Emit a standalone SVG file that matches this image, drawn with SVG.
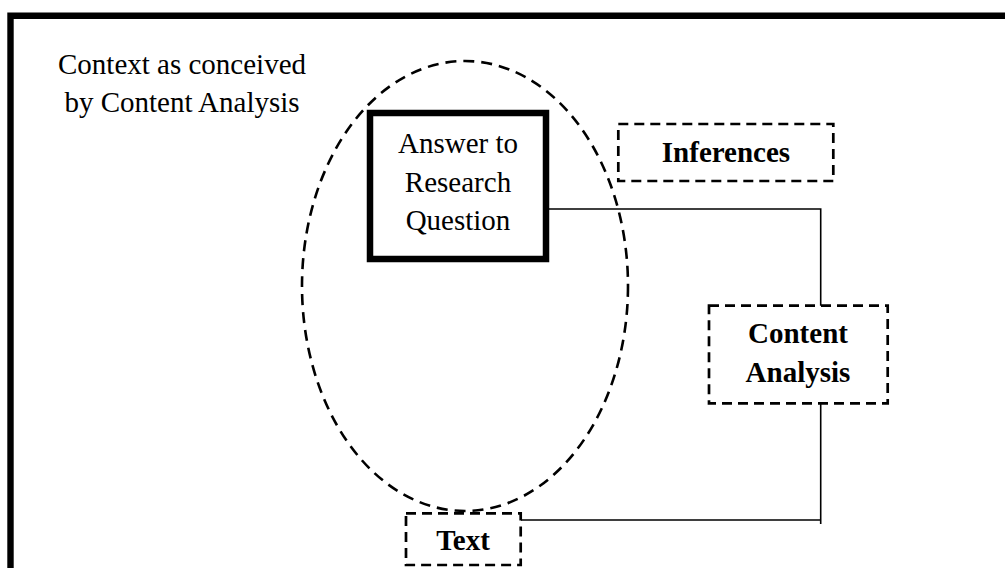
<svg xmlns="http://www.w3.org/2000/svg" width="1005" height="568" viewBox="0 0 1005 568">
<style>
.t{font-family:"Liberation Serif","Times New Roman",serif;font-size:29px;fill:#000;text-anchor:middle}
.b{font-weight:bold}
.dash{fill:none;stroke:#000;stroke-width:2.7;stroke-dasharray:10 6}
.conn{fill:none;stroke:#000;stroke-width:1.6}
</style>
<rect width="1005" height="568" fill="#fff"/>
<g id="frame">
<path d="M10.5 568 V15.8 H1005" fill="none" stroke="#000" stroke-width="6.4"/>
</g>
<g id="context">
<ellipse cx="465" cy="286" rx="163" ry="225" fill="none" stroke="#000" stroke-width="2.6" stroke-dasharray="11 7"/>
<text class="t" x="182" y="74">Context as conceived</text>
<text class="t" x="182" y="112">by Content Analysis</text>
</g>
<g id="connectors">
<path class="conn" d="M549 209 H820.7 V305.7"/>
<path class="conn" d="M820.7 403.3 V524 M820.7 520 H521"/>
</g>
<g id="answer">
<rect x="370" y="113" width="176" height="146" fill="#fff" stroke="#000" stroke-width="6.5"/>
<text class="t" x="458" y="153">Answer to</text>
<text class="t" x="458" y="192">Research</text>
<text class="t" x="458" y="230">Question</text>
</g>
<g id="inferences">
<rect class="dash" x="618.3" y="124" width="215" height="57"/>
<text class="t b" x="726" y="162">Inferences</text>
</g>
<g id="content-analysis">
<rect class="dash" x="709" y="305.7" width="178.7" height="97.6"/>
<text class="t b" x="798" y="343">Content</text>
<text class="t b" x="798" y="382">Analysis</text>
</g>
<g id="text">
<rect class="dash" x="406" y="513.3" width="114.7" height="51.7"/>
<text class="t b" x="463" y="550">Text</text>
</g>
</svg>
